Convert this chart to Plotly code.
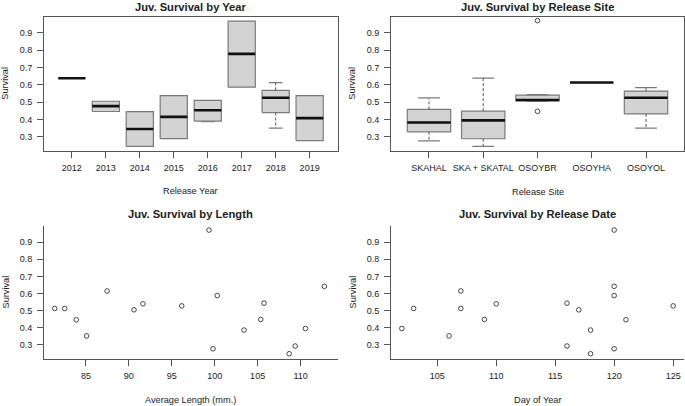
import plotly.graph_objects as go

W, H = 685, 406

# ---------------- data ----------------
years = ["2012", "2013", "2014", "2015", "2016", "2017", "2018", "2019"]
year_lower = [0.638, 0.446, 0.245, 0.290, 0.387, 0.586, 0.350, 0.278]
year_q1 = [0.638, 0.446, 0.245, 0.290, 0.390, 0.586, 0.440, 0.278]
year_med = [0.638, 0.477, 0.345, 0.415, 0.453, 0.778, 0.525, 0.408]
year_q3 = [0.638, 0.505, 0.445, 0.538, 0.510, 0.967, 0.568, 0.538]
year_upper = [0.638, 0.505, 0.445, 0.538, 0.510, 0.967, 0.613, 0.538]

sites = ["SKAHAL", "SKA + SKATAL", "OSOYBR", "OSOYHA", "OSOYOL"]
site_lower = [0.277, 0.245, 0.505, 0.613, 0.350]
site_q1 = [0.329, 0.289, 0.507, 0.613, 0.432]
site_med = [0.383, 0.395, 0.512, 0.613, 0.525]
site_q3 = [0.458, 0.448, 0.540, 0.613, 0.564]
site_upper = [0.525, 0.638, 0.543, 0.613, 0.584]
site_outlier_site = ["OSOYBR", "OSOYBR"]
site_outlier_val = [0.970, 0.447]

survival = [0.513, 0.513, 0.447, 0.353, 0.615, 0.505, 0.540, 0.528, 0.970,
            0.278, 0.588, 0.387, 0.449, 0.544, 0.249, 0.294, 0.396, 0.642]
avg_length = [81.37, 82.53, 83.88, 85.08, 87.47, 90.60, 91.64, 96.16, 99.33,
              99.80, 100.30, 103.42, 105.36, 105.74, 108.67, 109.37, 110.57, 112.77]
release_day = [103, 107, 121, 106, 107, 117, 110, 125, 120,
               120, 120, 118, 109, 116, 118, 116, 102, 120]

# ---------------- style ----------------
FONT = "Liberation Sans, Arial, sans-serif"
TXT = "#222222"
AX = "#555555"
BOX_FILL = "#d3d3d3"
BOX_LINE = "#7a7a7a"
HALF = 0.4  # half box width (boxwex 0.8)


def px_x(p):
    return p / W


def px_y(p):
    return 1 - p / H


fig = go.Figure()


def add_boxes(cats, lower, q1, med, q3, upper, xa, ya):
    for i, _ in enumerate(cats):
        c = i + 1
        # box
        fig.add_trace(go.Scatter(
            x=[c - HALF, c + HALF, c + HALF, c - HALF, c - HALF],
            y=[q1[i], q1[i], q3[i], q3[i], q1[i]],
            mode="lines", fill="toself", fillcolor=BOX_FILL,
            line=dict(color=BOX_LINE, width=1.2),
            xaxis=xa, yaxis=ya, hoverinfo="skip", showlegend=False))
        # whiskers
        for a, b in ((q3[i], upper[i]), (q1[i], lower[i])):
            if abs(b - a) > 1e-9:
                fig.add_trace(go.Scatter(
                    x=[c, c], y=[a, b], mode="lines",
                    line=dict(color="#555555", width=1, dash="3px,2px"),
                    xaxis=xa, yaxis=ya, hoverinfo="skip", showlegend=False))
                fig.add_trace(go.Scatter(
                    x=[c - HALF / 2, c + HALF / 2], y=[b, b], mode="lines",
                    line=dict(color=BOX_LINE, width=1.2),
                    xaxis=xa, yaxis=ya, hoverinfo="skip", showlegend=False))
        # median
        fig.add_trace(go.Scatter(
            x=[c - HALF, c + HALF], y=[med[i], med[i]], mode="lines",
            line=dict(color="#111111", width=2.6),
            xaxis=xa, yaxis=ya, hoverinfo="skip", showlegend=False))


add_boxes(years, year_lower, year_q1, year_med, year_q3, year_upper, "x", "y")
add_boxes(sites, site_lower, site_q1, site_med, site_q3, site_upper, "x2", "y2")

marker = dict(symbol="circle-open", size=4.6, color="#333333", line=dict(width=0.9, color="#333333"))
fig.add_trace(go.Scatter(
    x=[sites.index(s) + 1 for s in site_outlier_site], y=site_outlier_val,
    mode="markers", marker=marker, xaxis="x2", yaxis="y2", showlegend=False))
fig.add_trace(go.Scatter(x=avg_length, y=survival, mode="markers", marker=marker,
                         xaxis="x3", yaxis="y3", showlegend=False))
fig.add_trace(go.Scatter(x=release_day, y=survival, mode="markers", marker=marker,
                         xaxis="x4", yaxis="y4", showlegend=False))

# ---------------- axes ----------------
L1, R1 = 44, 337.5
L2, R2 = 391, 684
T1, B1 = 16.5, 151
T2, B2 = 226, 359
YR = [0.2183, 0.9937]
ytick = [0.3, 0.4, 0.5, 0.6, 0.7, 0.8, 0.9]

common = dict(showgrid=False, zeroline=False, ticks="outside", ticklen=6,
              tickwidth=1, tickcolor=AX, showline=True, linecolor=AX, linewidth=1,
              tickfont=dict(family=FONT, size=9, color=TXT), fixedrange=True,
              tickangle=0)

yax = dict(common, range=YR, tickvals=ytick, ticktext=[f"{v:.1f}" for v in ytick],
           ticklabelstandoff=3)
XSO = 2

fig.update_layout(
    width=W, height=H, margin=dict(l=0, r=0, t=0, b=0),
    paper_bgcolor="white", plot_bgcolor="white", showlegend=False,
    xaxis=dict(common, domain=[px_x(L1), px_x(R1)], range=[0.18, 8.82],
               tickvals=list(range(1, len(years) + 1)), ticktext=years,
               mirror=True, anchor="y", ticklabelstandoff=XSO),
    yaxis=dict(yax, domain=[px_y(B1), px_y(T1)], mirror=True, anchor="x"),
    xaxis2=dict(common, domain=[px_x(L2), px_x(R2)], range=[0.3, 5.7],
                tickvals=list(range(1, len(sites) + 1)), ticktext=sites,
                mirror=True, anchor="y2", ticklabelstandoff=XSO),
    yaxis2=dict(yax, domain=[px_y(B1), px_y(T1)], mirror=True, anchor="x2"),
    xaxis3=dict(common, domain=[px_x(L1), px_x(R1)], range=[80.12, 114.3],
                tickvals=[85, 90, 95, 100, 105, 110], anchor="y3", ticklabelstandoff=XSO),
    yaxis3=dict(yax, domain=[px_y(B2), px_y(T2)], anchor="x3"),
    xaxis4=dict(common, domain=[px_x(L2), px_x(R2)], range=[101.08, 125.92],
                tickvals=[105, 110, 115, 120, 125], anchor="y4", ticklabelstandoff=XSO),
    yaxis4=dict(yax, domain=[px_y(B2), px_y(T2)], anchor="x4"),
)

# ---------------- titles / labels ----------------
ann = []


def text(x, y, s, size=9.2, bold=False, angle=0):
    ann.append(dict(x=px_x(x), y=px_y(y), xref="paper", yref="paper", text=f"<b>{s}</b>" if bold else s,
                    showarrow=False, textangle=angle, xanchor="center", yanchor="middle",
                    font=dict(family=FONT, size=size, color=TXT)))


text((L1 + R1) / 2, 6.5, "Juv. Survival by Year", 11.2, True)
text((L2 + R2) / 2, 6.5, "Juv. Survival by Release Site", 11.2, True)
text((L1 + R1) / 2, 213.5, "Juv. Survival by Length", 11.2, True)
text((L2 + R2) / 2, 213.5, "Juv. Survival by Release Date", 11.2, True)
text((L1 + R1) / 2, 191, "Release Year")
text((L2 + R2) / 2, 191.5, "Release Site")
text((L1 + R1) / 2, 399.5, "Average Length (mm.)")
text((L2 + R2) / 2, 399.5, "Day of Year")
text(5, (T1 + B1) / 2, "Survival", angle=-90)
text(352, (T1 + B1) / 2, "Survival", angle=-90)
text(5, (T2 + B2) / 2, "Survival", angle=-90)
text(352, (T2 + B2) / 2, "Survival", angle=-90)
fig.update_layout(annotations=ann)

fig.write_html("out.html", config={"displayModeBar": False},
               post_script="document.body.style.margin='0px';document.body.style.overflow='hidden';")
